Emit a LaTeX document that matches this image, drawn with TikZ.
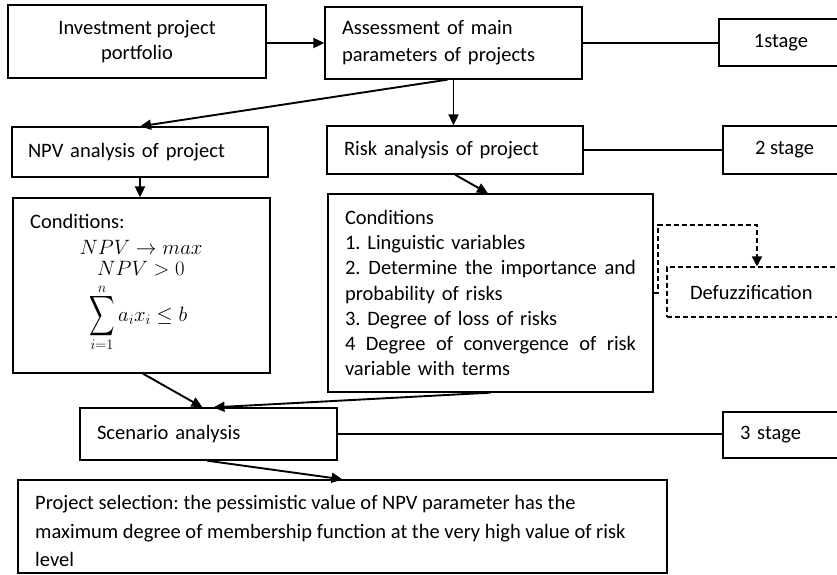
\documentclass[tikz,border=0pt]{standalone}
\usepackage{fontspec}
\usepackage{exscale}
\setmainfont{Carlito}
\usetikzlibrary{arrows.meta,calc}
\newcommand\jline[1]{\makebox[291pt][l]{#1}}
\begin{document}
\frenchspacing
\begin{tikzpicture}[x=1pt,y=-1pt,
  box/.style={draw, line width=1.3pt, rectangle, inner sep=0pt, font=\fontsize{20.5}{25.3}\selectfont},
  txt/.style={inner sep=0pt, font=\fontsize{20.5}{25}\selectfont},
  mth/.style={inner sep=0pt, font=\fontsize{21}{24}\selectfont},
  lim/.style={inner sep=0pt, font=\fontsize{15}{15}\selectfont},
  arr/.style={line width=1.9pt, -{Triangle[length=11pt,width=10pt]}},
  ln/.style={line width=1.2pt},
  dsh/.style={line width=1.5pt, dash pattern=on 5pt off 3pt}]
\useasboundingbox (0,0) rectangle (837,574);
\clip (0,0) rectangle (837,574);
\fill[white] (0,0) rectangle (837,574);

% boxes
\node[box, minimum width=258pt, minimum height=73pt, align=center] (inv) at (137,41.5) {Investment project\\portfolio};
\node[box, minimum width=257pt, minimum height=72pt, text width=223pt, align=left, font=\fontsize{20.5}{27}\selectfont] (ass) at (453.5,43) {Assessment of main\\parameters of projects};
\node[box, minimum width=124pt, minimum height=47pt] (s1) at (781,42.5) {1stage};
\node[box, minimum width=256pt, minimum height=50pt, text width=224pt, align=left] (npv) at (140,152) {NPV analysis of project};
\node[box, minimum width=256pt, minimum height=48pt, text width=222pt, align=left] (risk) at (455,150) {Risk analysis of project};
\node[box, minimum width=123pt, minimum height=48pt] (s2) at (784.5,150) {2 stage};
\node[box, minimum width=257pt, minimum height=175pt] (cnpv) at (141.5,285.5) {};
\node[box, minimum width=325pt, minimum height=198pt, text width=291pt, align=left] (crisk) at (490.5,293) {Conditions\\
1. Linguistic variables\\
\jline{2.\hfill Determine\hfill the\hfill importance\hfill and}\\
probability of risks\\
3. Degree of loss of risks\\
\jline{4\hfill Degree\hfill of\hfill convergence\hfill of\hfill risk}\\
variable with terms};
\node[box, line width=1.1pt, dash pattern=on 5pt off 3pt, minimum width=183pt, minimum height=50pt, text width=137pt, align=left] (defuzz) at (758.5,292) {Defuzzification};
\node[box, minimum width=257pt, minimum height=52pt, text width=223pt, align=left] (scen) at (208.5,434) {Scenario analysis};
\node[box, minimum width=127pt, minimum height=46pt, text width=93pt, align=left] (s3) at (786.5,435) {3 stage};
\node[box, minimum width=649pt, minimum height=93pt] (proj) at (342.5,526.5) {};

% text of the NPV conditions box
\node[txt, anchor=base west] (c0) at (30,228) {Conditions:};
\node[mth] (m1) at (141,247) {$NPV\rightarrow max$};
\node[mth] (m2) at (141,269) {$NPV>0$};
\node[mth, anchor=west] (m3) at (89,316.5) {$\vcenter{\hbox{\scalebox{0.85}[1.35]{$\displaystyle\sum$}}}\,a_ix_i\le b$};
\node[lim] (mn) at (102,289) {$n$};
\node[lim] (mi) at (102,345) {$i{=}1$};

% text of the project selection box
\node[txt, anchor=base west] (p1) at (35,509) {Project selection: the pessimistic value of NPV parameter has the};
\node[txt, anchor=base west] (p2) at (35,538) {maximum degree of membership function at the very high value of risk};
\node[txt, anchor=base west] (p3) at (35,566) {level};

% connectors
\draw[arr] (inv.east |- ass.west) -- (ass.west);
\draw[ln] (ass.east) -- (ass.east -| s1.west);
\draw[arr] ([xshift=-6pt]ass.south) -- (npv.north);
\draw[arr] (ass.south) -- (ass.south |- risk.north);
\draw[ln] (risk.east) -- (risk.east -| s2.west);
\draw[arr] (npv.south) -- (npv.south |- cnpv.north);
\draw[arr] (risk.south) -- ([xshift=-2.5pt]crisk.north);
\draw[arr] ([xshift=1.5pt]cnpv.south) -- ([xshift=-6pt]scen.north);
\draw[arr] (crisk.south) -- ([xshift=5pt]scen.north);
\draw[ln] (scen.east) -- (scen.east -| s3.west);
\draw[arr] ([xshift=-1.5pt]scen.south) -- (proj.north);
\coordinate (dk) at (658,225);
\draw[dsh, -{Triangle[length=10pt,width=10pt]}] (crisk.east) -- (crisk.east -| dk) -- (dk) -| ([xshift=-1.5pt]defuzz.north);
\end{tikzpicture}
\end{document}
